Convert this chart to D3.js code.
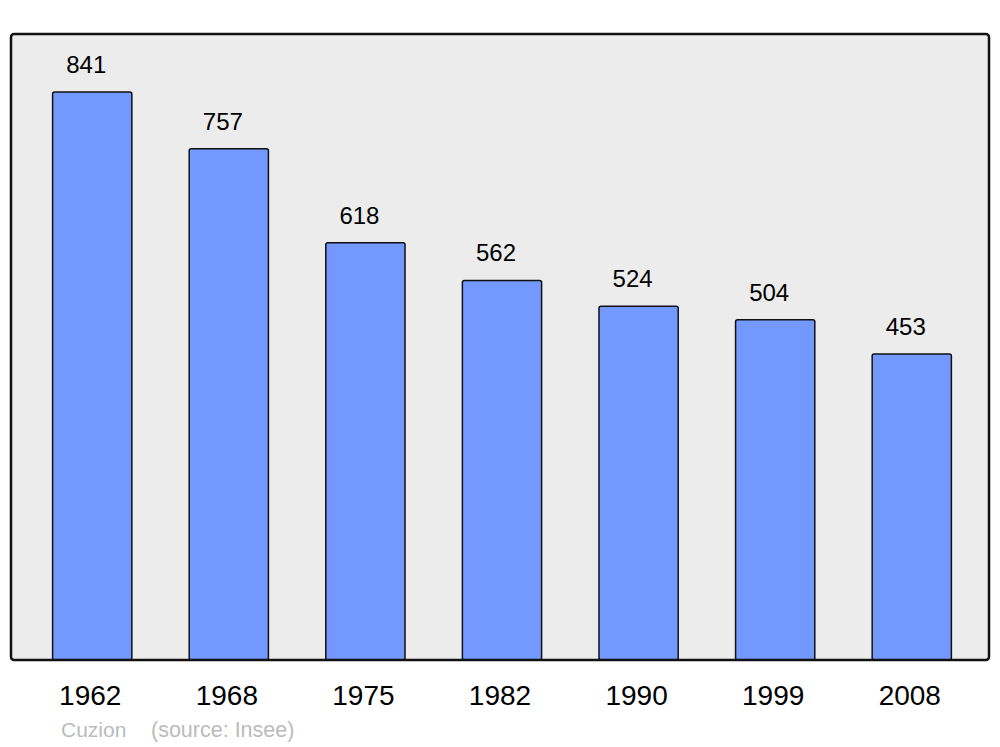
<!DOCTYPE html>
<html><head><meta charset="utf-8">
<script src="https://cdn.jsdelivr.net/npm/d3@7"></script>
<style>body{margin:0;background:#fff}svg{display:block}</style>
</head><body>
<svg id="c" width="1000" height="747"></svg>
<script>
const years = ["1962","1968","1975","1982","1990","1999","2008"];
const population = [841, 757, 618, 562, 524, 504, 453];
const commune = "Cuzion";
const sourceText = "(source: Insee)";

const svg = d3.select("#c");
const font = "'Liberation Sans', Arial, sans-serif";
const panel = {x0: 11, y0: 34, x1: 989, y1: 660};

svg.append("rect").attr("x", panel.x0).attr("y", panel.y0)
  .attr("width", panel.x1 - panel.x0).attr("height", panel.y1 - panel.y0)
  .attr("rx", 3).attr("fill", "#ececec");

const x = d3.scaleBand().domain(years).range([13, 991]).paddingInner(0.42).paddingOuter(0.29);
const y = d3.scaleLinear().domain([0, 927]).range([panel.y1, panel.y0]);

const data = years.map((yr, i) => ({year: yr, v: population[i]}));

svg.selectAll("rect.bar").data(data).join("rect").attr("class", "bar")
  .attr("x", d => x(d.year)).attr("y", d => y(d.v))
  .attr("width", x.bandwidth()).attr("height", d => y(0) - y(d.v))
  .attr("rx", 2).attr("fill", "#7399ff").attr("stroke", "#111").attr("stroke-width", 1.5);

svg.selectAll("text.val").data(data).join("text").attr("class", "val")
  .attr("x", d => x(d.year) + x.bandwidth() / 2 - 6).attr("y", d => y(d.v) - 19)
  .attr("text-anchor", "middle").attr("font-family", font).attr("font-size", 24)
  .attr("fill", "#000").text(d => d.v);

svg.append("rect").attr("x", panel.x0).attr("y", panel.y0)
  .attr("width", panel.x1 - panel.x0).attr("height", panel.y1 - panel.y0)
  .attr("rx", 3).attr("fill", "none").attr("stroke", "#111").attr("stroke-width", 2.5);

const xAxis = d3.axisBottom(x).tickSize(0).tickPadding(0);
const ax = svg.append("g").attr("transform", `translate(-2,${panel.y1})`).call(xAxis);
ax.select(".domain").remove();
ax.selectAll("text").attr("font-family", font).attr("font-size", 28).attr("fill", "#000")
  .attr("dy", null).attr("y", 45);

svg.append("text").attr("x", 61).attr("y", 737).attr("font-family", font).attr("font-size", 21)
  .attr("fill", "#bbbbbb").text(commune);
svg.append("text").attr("x", 151).attr("y", 737).attr("font-family", font).attr("font-size", 21.5)
  .attr("fill", "#bbbbbb").text(sourceText);
</script>
</body></html>
